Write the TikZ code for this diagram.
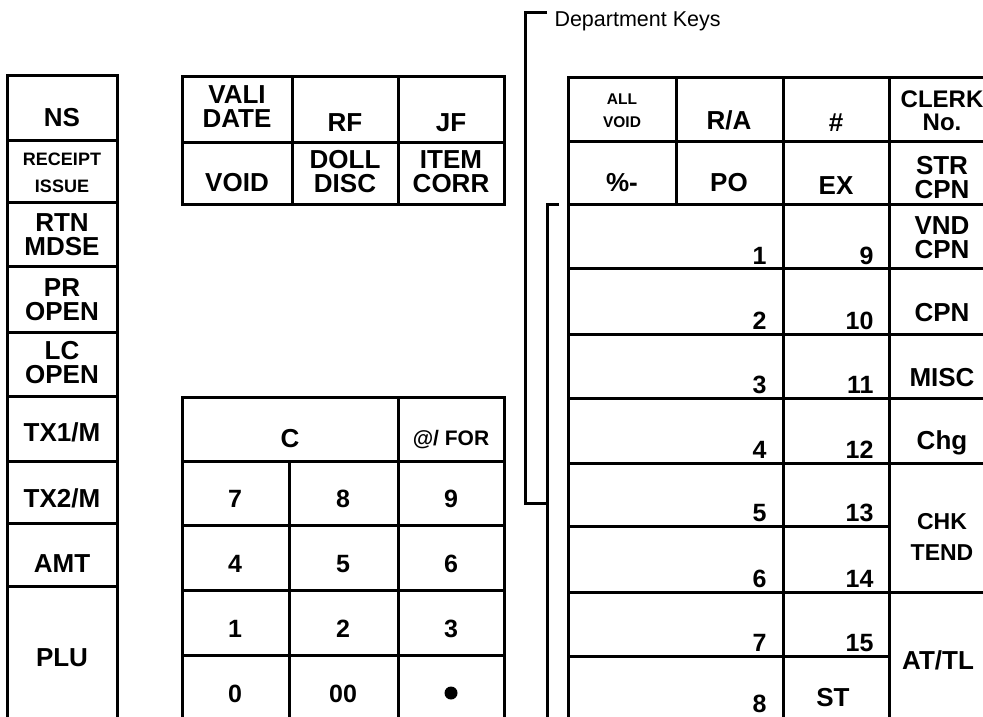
\documentclass[tikz,border=0pt]{standalone}
\usepackage{fontspec}
\setmainfont{Liberation Sans}

\begin{document}
\begin{tikzpicture}[x=0.5pt,y=-0.5pt,line width=1.5pt,
	key/.style={font=\bfseries\fontsize{13}{12}\selectfont,inner sep=0pt,text height=9.3pt,text depth=0pt},
	twokey/.style={font=\bfseries\fontsize{13}{12}\selectfont,inner sep=0pt,align=center},
	digit/.style={font=\bfseries\fontsize{12.5}{12}\selectfont,inner sep=0pt,text height=9pt,text depth=0pt},
	dept/.style={font=\fontsize{10.75}{12}\selectfont,inner sep=0pt,anchor=base west},
	num/.style={font=\bfseries\fontsize{12.5}{12}\selectfont,inner sep=0pt,anchor=south east}]
	\useasboundingbox (0,0) rectangle (983,716);
	\clip (0,0) rectangle (983,716);

	% left column
	\draw (7,730) -- (7,76) -- (117,76) -- (117,730);
	\foreach \y in {141,203,267,332,396,461,523,586}
		\draw (7,\y) -- (117,\y);
	\node[key] (ns) at (62,117) {NS};
	\node[twokey,font=\bfseries\fontsize{9}{13.5}\selectfont] (receipt) at (62,173) {RECEIPT\\ISSUE};
	\node[twokey] (rtn) at (62,235) {RTN\\MDSE};
	\node[twokey] (pr) at (62,300) {PR\\OPEN};
	\node[twokey] (lc) at (62,363) {LC\\OPEN};
	\node[key] (tx1) at (62,432) {TX1/M};
	\node[key] (tx2) at (62,498) {TX2/M};
	\node[key] (amt) at (62,563) {AMT};
	\node[key] (plu) at (62,657) {PLU};

	% function keys
	\draw (182,77) rectangle (504,205);
	\draw (182,143) -- (504,143);
	\draw (292,77) -- (292,205);
	\draw (398,77) -- (398,205);
	\node[twokey] (vali) at (237,107) {VALI\\DATE};
	\node[key] (rf) at (345,122) {RF};
	\node[key] (jf) at (451,122) {JF};
	\node[key] (void) at (237,182) {VOID};
	\node[twokey] (doll) at (345,172) {DOLL\\DISC};
	\node[twokey] (item) at (451,172) {ITEM\\CORR};

	% keypad
	\draw (182,730) -- (182,397) -- (504,397) -- (504,730);
	\foreach \y in {461,525,590,655}
		\draw (182,\y) -- (504,\y);
	\draw (289,461) -- (289,730);
	\draw (398,397) -- (398,730);
	\node[key] (c) at (290,438) {C};
	\node[key,font=\bfseries\fontsize{10.5}{12}\selectfont,text height=7.5pt] (for) at (451,438) {@/ FOR};
	\foreach \a/\b/\c [count=\r] in {7/8/9,4/5/6,1/2/3} {
		\node[digit] (k\a) at (235,{498+65*(\r-1)}) {\a};
		\node[digit] (k\b) at (343,{498+65*(\r-1)}) {\b};
		\node[digit] (k\c) at (451,{498+65*(\r-1)}) {\c};
	}
	\node[digit] (k0) at (235,693) {0};
	\node[digit] (k00) at (343,693) {00};
	\node[circle,fill,inner sep=0pt,minimum size=6.5pt] (dot) at (451,693) {};

	% register keys
	\draw (568,730) -- (568,78) -- (995,78);
	\foreach \y in {142,205,269,334,398,463,592}
		\draw (568,\y) -- (995,\y);
	\foreach \y in {526,656}
		\draw (568,\y) -- (889,\y);
	\draw (676,78) -- (676,205);
	\draw (783,78) -- (783,730);
	\draw (889,78) -- (889,730);
	\node[twokey,font=\bfseries\fontsize{7.75}{11.5}\selectfont] (allvoid) at (622,111) {ALL\\VOID};
	\node[key] (ra) at (729,120) {R/A};
	\node[key] (hash) at (836,122) {\#};
	\node[twokey,font=\bfseries\fontsize{12}{11.5}\selectfont] (clerk) at (942,111) {CLERK\\No.};
	\node[key] (pct) at (622,182) {\%-};
	\node[key] (po) at (729,182) {PO};
	\node[key] (ex) at (836,185) {EX};
	\node[twokey] (str) at (942,178) {STR\\CPN};
	\node[twokey] (vnd) at (942,238) {VND\\CPN};
	\node[key] (cpn) at (942,312) {CPN};
	\node[key] (misc) at (942,377) {MISC};
	\node[key] (chg) at (942,440) {Chg};
	\node[twokey,font=\bfseries\fontsize{11.5}{15.5}\selectfont] (chk) at (942,537) {CHK\\TEND};
	\node[key] (attl) at (938,660) {AT/TL};
	\node[key] (st) at (833,697) {ST};
	\foreach \n/\y in {1/269,2/334,3/398,4/463,5/526,6/592,7/656,8/717}
		\node[num] (d\n) at (768,\y-3) {\n};
	\foreach \n/\y in {9/269,10/334,11/398,12/463,13/526,14/592,15/656}
		\node[num] (d\n) at (875,\y-3) {\n};

	% department keys bracket
	\node[dept] (dept) at (553,27) {Department Keys};
	\coordinate (dk top) at (547,13);
	\coordinate (dk corner) at (525,13);
	\coordinate (dk foot) at (525,503);
	\coordinate (dk join) at (547,503);
	\coordinate (rk top) at (559,205);
	\coordinate (rk bend) at (547,205);
	\coordinate (rk end) at (547,730);
	\draw (dk top) -- (dk corner) -- (dk foot) -- (dk join);
	\draw (rk top) -- (rk bend) -- (rk end);
\end{tikzpicture}
\end{document}
